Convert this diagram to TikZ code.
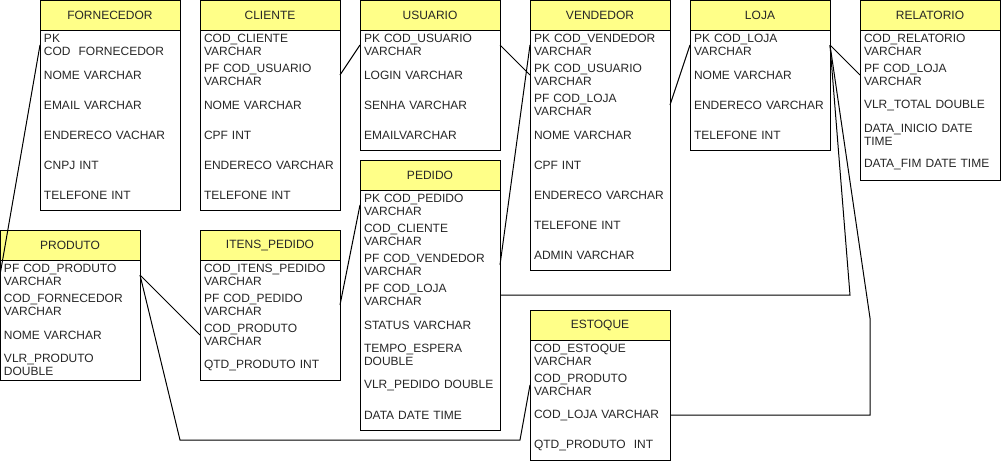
\documentclass[tikz,border=0pt]{standalone}
\usepackage{fontspec}
\setmainfont{Liberation Sans}
\usepackage{tikz}
\usetikzlibrary{matrix,
                positioning}
\definecolor{headyellow}{HTML}{FFFF88}

\begin{document}
\begin{tikzpicture}[
x=0.75pt, y=-0.75pt,
line width=0.75pt,
   TBL/.style = {matrix of nodes, inner sep=0pt, outer sep=0pt,
                 nodes={minimum width=105pt, minimum height=22.5pt,
                        text width=99pt, inner xsep=3pt, inner ysep=0pt,
                        outer sep=0pt, align=left, anchor=center,
                        text=black!85, font=\fontsize{9}{10.2}\selectfont},
                 row sep=0pt,
                 row 1/.append style = {nodes={HD}}},
    HD/.style = {fill=headyellow, align=center},%header row
  LINK/.style = {line join=miter}
                    ]
\useasboundingbox (0,0) rectangle (1001,461);
% top row
\matrix (fornecedor) [TBL, anchor=north west] at (40,0)
{
FORNECEDOR \\
{PK\\COD\ \ FORNECEDOR} \\
NOME VARCHAR \\
EMAIL VARCHAR \\
ENDERECO VACHAR \\
CNPJ INT \\
TELEFONE INT \\
};
\matrix (cliente) [TBL, below right=0pt and 15pt of fornecedor.north east]
{
CLIENTE \\
{COD\_CLIENTE\\VARCHAR} \\
{PF COD\_USUARIO\\VARCHAR} \\
NOME VARCHAR \\
CPF INT \\
ENDERECO VARCHAR \\
TELEFONE INT \\
};
\matrix (usuario) [TBL, below right=0pt and 15pt of cliente.north east]
{
USUARIO \\
{PK COD\_USUARIO\\VARCHAR} \\
LOGIN VARCHAR \\
SENHA VARCHAR \\
EMAILVARCHAR \\
};
\matrix (vendedor) [TBL, below right=0pt and 22.5pt of usuario.north east]
{
VENDEDOR \\
{PK COD\_VENDEDOR\\VARCHAR} \\
{PK COD\_USUARIO\\VARCHAR} \\
{PF COD\_LOJA\\VARCHAR} \\
NOME VARCHAR \\
CPF INT \\
ENDERECO VARCHAR \\
TELEFONE INT \\
ADMIN VARCHAR \\
};
\matrix (loja) [TBL, below right=0pt and 15pt of vendedor.north east]
{
LOJA \\
{PK COD\_LOJA\\VARCHAR} \\
NOME VARCHAR \\
ENDERECO VARCHAR \\
TELEFONE INT \\
};
\matrix (relatorio) [TBL, below right=0pt and 22.5pt of loja.north east]
{
RELATORIO \\
{COD\_RELATORIO\\VARCHAR} \\
{PF COD\_LOJA\\VARCHAR} \\
VLR\_TOTAL DOUBLE \\
{DATA\_INICIO DATE\\TIME} \\
DATA\_FIM DATE TIME \\
};
% lower row
\matrix (itens) [TBL, below right=15pt and 0pt of cliente.south west]
{
ITENS\_PEDIDO \\
{COD\_ITENS\_PEDIDO\\VARCHAR} \\
{PF COD\_PEDIDO\\VARCHAR} \\
{COD\_PRODUTO\\VARCHAR} \\
QTD\_PRODUTO INT \\
};
\matrix (produto) [TBL, below left=0pt and 45pt of itens.north west]
{
PRODUTO \\
{PF COD\_PRODUTO\\VARCHAR} \\
{COD\_FORNECEDOR\\VARCHAR} \\
NOME VARCHAR \\
{VLR\_PRODUTO\\DOUBLE} \\
};
\matrix (pedido) [TBL, below right=7.5pt and 0pt of usuario.south west]
{
PEDIDO \\
{PK COD\_PEDIDO\\VARCHAR} \\
{COD\_CLIENTE\\VARCHAR} \\
{PF COD\_VENDEDOR\\VARCHAR} \\
{PF COD\_LOJA\\VARCHAR} \\
STATUS VARCHAR \\
{TEMPO\_ESPERA\\DOUBLE} \\
VLR\_PEDIDO DOUBLE \\
DATA DATE TIME \\
};
\matrix (estoque) [TBL, below right=30pt and 0pt of vendedor.south west]
{
ESTOQUE \\
{COD\_ESTOQUE\\VARCHAR} \\
{COD\_PRODUTO\\VARCHAR} \\
COD\_LOJA VARCHAR \\
{QTD\_PRODUTO\ \ INT} \\
};
% frames and header lines
\foreach \t in {fornecedor, cliente, usuario, vendedor, loja, relatorio,
                itens, produto, pedido, estoque}
  \draw (\t.north west) rectangle (\t.south east)
        (\t-1-1.south west) -- (\t-1-1.south east);
% bends
\coordinate (prodA) at (180,440);
\coordinate (prodB) at (520,440);
\coordinate (lojaA) at (850,295);
\coordinate (lojaB) at (870,318);
\coordinate (lojaC) at (870,415);
% links
\draw[LINK] (fornecedor-2-1.west) -- (produto-2-1.west);
\draw[LINK] (cliente-3-1.east) -- (usuario-2-1.west);
\draw[LINK] (usuario-2-1.east) -- (vendedor-3-1.west);
\draw[LINK] (vendedor-4-1.east) -- (loja-2-1.west);
\draw[LINK] (loja-2-1.east) -- (relatorio-3-1.west);
\draw[LINK] (vendedor-2-1.west) -- (pedido-4-1.east);
\draw[LINK] (itens-3-1.east) -- (pedido-2-1.west);
\draw[LINK] (produto-2-1.east) -- (itens-4-1.west);
\draw[LINK] (produto-2-1.east) -- (prodA) -- (prodB) -- (estoque-3-1.west);
\draw[LINK] (loja-2-1.east) -- (lojaA) -- (pedido-5-1.east);
\draw[LINK] (loja-2-1.east) -- (lojaB) -- (lojaC) -- (estoque-4-1.east);
\end{tikzpicture}
\end{document}
